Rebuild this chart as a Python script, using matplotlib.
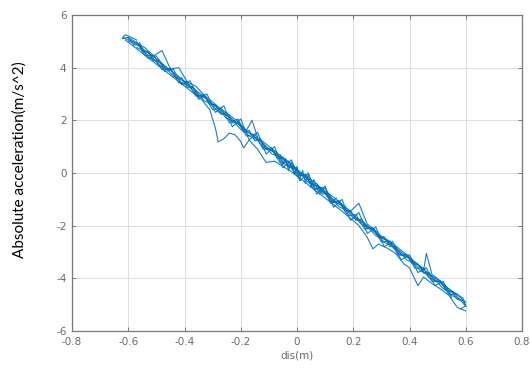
import matplotlib
matplotlib.use("Agg")
import matplotlib.pyplot as plt

# ---- data ----
p1_x = [-0.62, -0.60, -0.58, -0.56, -0.55, -0.53, -0.51, -0.49, -0.47, -0.45, -0.43, -0.41, -0.39,
        -0.37, -0.35, -0.33, -0.31, -0.29, -0.27, -0.25, -0.23, -0.21, -0.19, -0.17, -0.15, -0.13,
        -0.11, -0.09, -0.07, -0.05, -0.03, -0.01, 0.01, 0.03, 0.05, 0.07, 0.09, 0.11, 0.13, 0.15,
        0.17, 0.19, 0.21, 0.23, 0.25, 0.27, 0.29, 0.31, 0.33, 0.35, 0.37, 0.39, 0.41, 0.43, 0.45,
        0.47, 0.49, 0.51, 0.53, 0.55, 0.57, 0.59, 0.60]
p1_y = [5.10, 5.15, 4.85, 4.90, 4.60, 4.62, 4.25, 4.30, 3.92, 3.95, 3.60, 3.62, 3.25,
        3.28, 2.90, 2.95, 2.58, 2.60, 2.22, 2.30, 1.90, 1.95, 1.55, 1.62, 1.22, 1.30,
        0.90, 0.92, 0.55, 0.60, 0.22, 0.25, -0.10, -0.08, -0.45, -0.40, -0.80, -0.75, -1.12, -1.08,
        -1.45, -1.42, -1.80, -1.75, -2.12, -2.10, -2.45, -2.42, -2.80, -2.78, -3.12, -3.10, -3.45, -3.45, -3.80,
        -3.78, -4.12, -4.12, -4.45, -4.50, -4.80, -4.85, -5.05]

p2_x = [0.60, 0.57, 0.54, 0.51, 0.48, 0.46, 0.45, 0.42, 0.39, 0.36, 0.33, 0.30, 0.27, 0.25, 0.22,
        0.19, 0.16, 0.13, 0.10, 0.07, 0.04, 0.01, -0.02, -0.05, -0.08, -0.11, -0.14, -0.16, -0.18,
        -0.21, -0.24, -0.27, -0.30, -0.33, -0.36, -0.39, -0.42, -0.45, -0.48, -0.51, -0.54, -0.57, -0.60]
p2_y = [-4.90, -4.62, -4.40, -4.10, -3.85, -3.05, -3.70, -3.38, -3.10, -2.85, -2.60, -2.40, -2.10, -1.95, -1.15,
        -1.45, -1.18, -0.92, -0.70, -0.42, -0.18, 0.05, 0.35, 0.58, 0.85, 1.10, 1.35, 2.00, 1.62,
        1.95, 2.20, 2.42, 2.70, 2.95, 3.30, 3.45, 4.00, 3.95, 4.65, 4.45, 4.75, 4.95, 5.15]

p3_x = [-0.61, -0.58, -0.55, -0.52, -0.49, -0.46, -0.43, -0.40, -0.37, -0.34, -0.31, -0.29, -0.28,
        -0.26, -0.24, -0.22, -0.20, -0.19, -0.17, -0.14, -0.11, -0.08, -0.05, -0.02, 0.01, 0.04, 0.07,
        0.10, 0.13, 0.16, 0.19, 0.22, 0.25, 0.27, 0.29, 0.32, 0.35, 0.38, 0.40, 0.43, 0.45, 0.48,
        0.51, 0.54, 0.57, 0.60]
p3_y = [5.05, 4.80, 4.55, 4.30, 4.05, 3.80, 3.55, 3.30, 3.05, 2.80, 2.40, 1.70, 1.18,
        1.30, 1.52, 1.45, 1.20, 0.95, 1.25, 0.90, 0.40, 0.45, 0.25, 0.05, -0.20, -0.45, -0.70,
        -0.95, -1.20, -1.45, -1.72, -2.00, -2.45, -2.88, -2.70, -2.85, -3.05, -3.45, -3.60, -4.28, -3.95, -4.20,
        -4.40, -4.65, -5.10, -5.24]

p4_x = [0.58, 0.60, 0.59, 0.56, 0.53, 0.50, 0.47, 0.44, 0.41, 0.38, 0.35, 0.32, 0.29, 0.26, 0.23,
        0.20, 0.17, 0.14, 0.11, 0.08, 0.05, 0.02, -0.01, -0.04, -0.07, -0.10, -0.13, -0.16, -0.19,
        -0.22, -0.25, -0.28, -0.31, -0.34, -0.37, -0.40, -0.43, -0.46, -0.49, -0.52, -0.55, -0.58,
        -0.62, -0.61, -0.57]
p4_y = [-5.17, -5.05, -4.75, -4.55, -4.35, -4.05, -3.85, -3.55, -3.35, -3.08, -2.85, -2.58, -2.35, -2.10, -1.85,
        -1.60, -1.33, -1.10, -0.85, -0.60, -0.33, -0.08, 0.18, 0.42, 0.70, 0.92, 1.20, 1.45, 1.70,
        1.95, 2.20, 2.45, 2.70, 2.98, 3.22, 3.48, 3.75, 3.98, 4.25, 4.50, 4.72, 4.98,
        5.15, 5.25, 5.05]

p5_x = [-0.56, -0.53, -0.50, -0.47, -0.44, -0.41, -0.38, -0.35, -0.32, -0.29, -0.26, -0.23, -0.20,
        -0.17, -0.14, -0.11, -0.08, -0.05, -0.02, 0.01, 0.04, 0.07, 0.10, 0.13, 0.16, 0.19, 0.22,
        0.25, 0.28, 0.31, 0.34, 0.37, 0.40, 0.43, 0.46, 0.49, 0.52, 0.55]
p5_y = [4.95, 4.35, 4.45, 3.85, 3.95, 3.35, 3.50, 2.80, 3.00, 2.30, 2.55, 1.75, 2.05,
        1.25, 1.55, 0.72, 1.00, 0.20, 0.50, -0.30, 0.00, -0.80, -0.50, -1.30, -1.00, -1.80, -1.50,
        -2.30, -2.05, -2.80, -2.60, -3.30, -3.10, -3.78, -3.60, -4.28, -4.12, -4.75]

p6_x = [0.57, 0.54, 0.51, 0.48, 0.45, 0.42, 0.39, 0.36, 0.33, 0.30, 0.27, 0.24, 0.21, 0.18, 0.15,
        0.12, 0.09, 0.06, 0.03, 0.00, -0.03, -0.06, -0.09, -0.12, -0.15, -0.18, -0.21, -0.24, -0.27,
        -0.30, -0.33, -0.36, -0.39, -0.42, -0.45, -0.48, -0.51, -0.54, -0.57]
p6_y = [-4.60, -4.62, -4.10, -4.12, -3.60, -3.62, -3.10, -3.12, -2.58, -2.62, -2.08, -2.12, -1.58, -1.62, -1.05,
        -1.12, -0.55, -0.62, -0.05, -0.12, 0.45, 0.38, 0.95, 0.90, 1.48, 1.40, 2.05, 1.90, 2.48,
        2.40, 2.98, 2.92, 3.48, 3.42, 3.98, 3.92, 4.48, 4.45, 4.98]

p7_x = [-0.60, -0.56, -0.52, -0.48, -0.44, -0.40, -0.36, -0.32, -0.28, -0.24, -0.20, -0.16, -0.12,
        -0.08, -0.04, 0.00, 0.04, 0.08, 0.12, 0.16, 0.20, 0.24, 0.28, 0.32, 0.36, 0.40, 0.44, 0.48,
        0.52, 0.56, 0.60]
p7_y = [5.02, 4.82, 4.35, 4.15, 3.68, 3.48, 3.00, 2.82, 2.32, 2.15, 1.65, 1.48, 0.98,
        0.80, 0.30, 0.12, -0.36, -0.55, -1.04, -1.22, -1.70, -1.90, -2.38, -2.56, -3.05, -3.24, -3.72, -3.91,
        -4.40, -4.58, -5.06]

p8_x = [0.59, 0.55, 0.51, 0.47, 0.43, 0.39, 0.35, 0.31, 0.27, 0.23, 0.19, 0.15, 0.11, 0.07, 0.03,
        -0.01, -0.05, -0.09, -0.13, -0.17, -0.21, -0.25, -0.29, -0.33, -0.37, -0.41, -0.45, -0.49,
        -0.53, -0.57]
p8_y = [-4.85, -4.65, -4.16, -3.98, -3.49, -3.30, -2.82, -2.63, -2.15, -1.96, -1.47, -1.29, -0.80, -0.62, -0.13,
        0.05, 0.55, 0.73, 1.22, 1.40, 1.89, 2.07, 2.57, 2.74, 3.24, 3.42, 3.91, 4.09,
        4.58, 4.76]

p9_x = [-0.06, -0.05, -0.04, -0.03, -0.02, -0.01, 0.00, 0.01, 0.02, 0.03, 0.04, 0.05, 0.06, 0.08,
        0.10, 0.12, 0.14]
p9_y = [0.70, 0.30, 0.55, 0.10, 0.40, -0.05, 0.25, -0.25, 0.10, -0.40, -0.05, -0.55, -0.25, -0.80,
        -0.55, -1.15, -0.95]

passes = [(p1_x, p1_y), (p2_x, p2_y), (p3_x, p3_y), (p4_x, p4_y), (p5_x, p5_y),
          (p6_x, p6_y), (p7_x, p7_y), (p8_x, p8_y), (p9_x, p9_y)]

x_ticks = [-0.8, -0.6, -0.4, -0.2, 0, 0.2, 0.4, 0.6, 0.8]
x_tick_labels = ["-0.8", "-0.6", "-0.4", "-0.2", "0", "0.2", "0.4", "0.6", "0.8"]
y_ticks = [-6, -4, -2, 0, 2, 4, 6]
y_tick_labels = ["-6", "-4", "-2", "0", "2", "4", "6"]

# ---- figure ----
fig = plt.figure(figsize=(5.30, 3.72), dpi=100)
ax = fig.add_axes([72 / 530, 41 / 372, 450 / 530, 316 / 372])

line_color = "#0072BD"
for px, py in passes:
    ax.plot(px, py, color=line_color, lw=0.8, alpha=0.9)

ax.set_xlim(-0.8, 0.8)
ax.set_ylim(-6, 6)
ax.set_xticks(x_ticks)
ax.set_xticklabels(x_tick_labels)
ax.set_yticks(y_ticks)
ax.set_yticklabels(y_tick_labels)

ax.grid(True, color="#dddddd", lw=0.7)
ax.set_axisbelow(True)
for s in ax.spines.values():
    s.set_color("#777777")
    s.set_linewidth(0.9)
ax.tick_params(direction="in", length=3, width=0.7, color="#777777",
               labelsize=7.5, labelcolor="#6a6a6a", top=True, right=True, pad=4)

ax.set_xlabel("dis(m)", fontsize=7.5, color="#6a6a6a", labelpad=3)
fig.text(20 / 530, 1 - 160 / 372, "Absolute acceleration(m/s^2)", rotation=90,
         ha="center", va="center", fontsize=11, color="black", family=["Lato", "DejaVu Sans"])

fig.savefig("out.png", dpi=100)
